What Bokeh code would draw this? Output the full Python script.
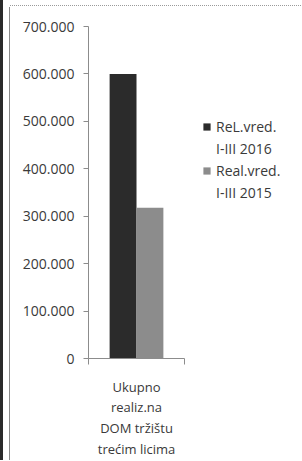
from bokeh.plotting import figure
from bokeh.models import FixedTicker, Legend, LegendItem, Range1d, ColumnDataSource
from bokeh.transform import dodge
from bokeh.embed import file_html
from bokeh.resources import INLINE

categories = ["Ukupno\nrealiz.na\nDOM tržištu\ntrećim licima"]
series_names = [["ReL.vred.", "I-III 2016"], ["Real.vred.", "I-III 2015"]]
vals_2016 = [600000]
vals_2015 = [318000]
tick_values = [0, 100000, 200000, 300000, 400000, 500000, 600000, 700000]
tick_labels = ["0", "100.000", "200.000", "300.000", "400.000", "500.000", "600.000", "700.000"]
colors = ["#2b2b2b", "#8c8c8c"]
FONT = "Open Sans"
TXT = "#3a3a3a"
AXIS = "#8c8c8c"

# category slots on a numeric axis: slot i spans [i, i+1], centre at i+0.5
centres = [i + 0.5 for i in range(len(categories))]
bounds = list(range(len(categories) + 1))
src = ColumnDataSource(dict(pos=centres, v16=vals_2016, v15=vals_2015))

p = figure(x_range=Range1d(0, len(categories)), y_range=Range1d(0, 700000),
           frame_width=96, frame_height=332,
           min_border_left=88, min_border_right=110, min_border_top=26, min_border_bottom=100,
           output_backend="svg", toolbar_location=None)

r1 = p.vbar(x=dodge("pos", -0.14), top="v16", width=0.28, source=src,
            fill_color=colors[0], line_color=None)
r2 = p.vbar(x=dodge("pos", 0.14), top="v15", width=0.28, source=src,
            fill_color=colors[1], line_color=None)

p.outline_line_color = None
p.xgrid.grid_line_color = None
p.ygrid.grid_line_color = None
p.background_fill_color = "white"
p.border_fill_color = None
p.styles = {
    "background-color": "white",
    "background-image": ("linear-gradient(#2a2a2a,#2a2a2a), linear-gradient(#8a8a8a,#8a8a8a), "
                         "repeating-linear-gradient(to right, #9a9a9a 0 1px, transparent 1px 2px)"),
    "background-size": "3px 100%, 1px calc(100% - 7px), calc(100% - 10px) 1px",
    "background-position": "0 0, 9px 7px, 10px 5px",
    "background-repeat": "no-repeat",
}

ya = p.yaxis[0]
ya.ticker = FixedTicker(ticks=tick_values)
ya.major_label_overrides = {v: l for v, l in zip(tick_values, tick_labels)}
ya.axis_line_color = AXIS
ya.major_tick_line_color = AXIS
ya.major_tick_out = 5
ya.major_tick_in = 0
ya.minor_tick_line_color = None
ya.major_label_standoff = 9
ya.major_label_text_font = FONT
ya.major_label_text_font_size = "14px"
ya.major_label_text_color = TXT

xa = p.xaxis[0]
xa.ticker = FixedTicker(ticks=centres, minor_ticks=bounds)
xa.major_label_overrides = {c: name for c, name in zip(centres, categories)}
xa.axis_line_color = AXIS
xa.major_tick_line_color = None
xa.major_tick_out = 0
xa.major_tick_in = 0
xa.minor_tick_line_color = AXIS
xa.minor_tick_out = 6
xa.minor_tick_in = 0
xa.major_label_standoff = 13
xa.major_label_text_font = FONT
xa.major_label_text_font_size = "13px"
xa.major_label_text_color = TXT
xa.major_label_text_line_height = 1.15
xa.major_label_orientation = "horizontal"

items = [LegendItem(label=series_names[0][0], renderers=[r1]),
         LegendItem(label=series_names[0][1], renderers=[]),
         LegendItem(label=series_names[1][0], renderers=[r2]),
         LegendItem(label=series_names[1][1], renderers=[])]
legend = Legend(items=items, location=(18, 156), orientation="vertical",
                glyph_width=9, glyph_height=9, label_standoff=5, label_height=20,
                label_text_font=FONT, label_text_font_size="14px",
                label_text_color=TXT, label_text_line_height=1.0,
                border_line_color=None, background_fill_alpha=0,
                padding=0, spacing=2, margin=0)
p.add_layout(legend, "right")

open("out.html", "w").write(file_html(p, INLINE))
